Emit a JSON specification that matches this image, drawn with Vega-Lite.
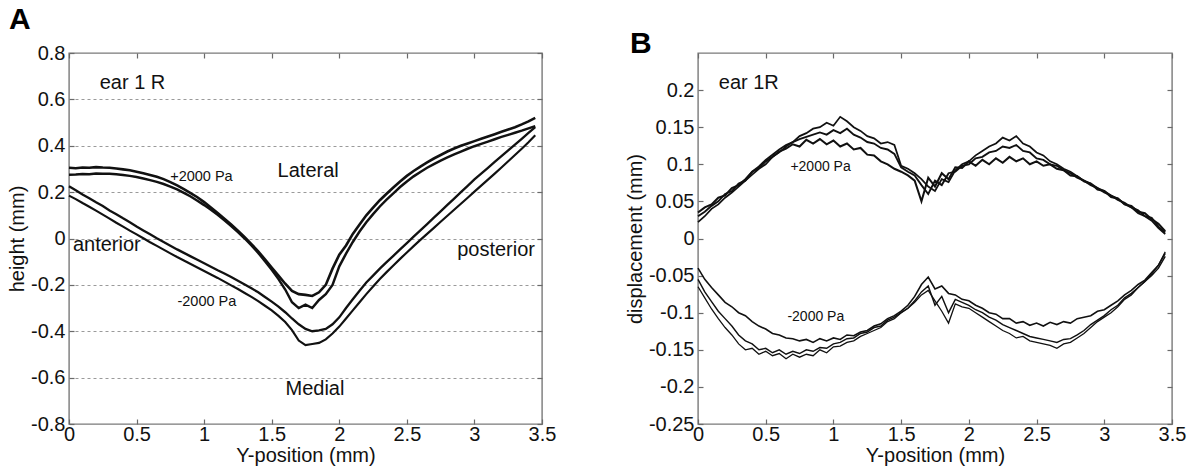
{
  "$schema": "https://vega.github.io/schema/vega-lite/v6.json",
  "padding": {"left": 6, "top": 4, "right": 4, "bottom": 2},
  "background": "white",
  "spacing": 67,
  "config": {
    "font": "Liberation Sans",
    "view": {"stroke": "#7a7a7a", "strokeWidth": 1.4},
    "axis": {
      "labelFont": "Liberation Sans", "titleFont": "Liberation Sans",
      "labelFontSize": 20, "titleFontSize": 20,
      "labelColor": "#111", "titleColor": "#111", "titleFontWeight": "normal",
      "domain": false, "tickColor": "#6a6a6a", "tickSize": -5, "tickWidth": 1.2,
      "labelPadding": 9, "labelFlush": false, "labelOverlap": false, "grid": false
    },
    "title": {"font": "Liberation Sans", "fontSize": 30, "fontWeight": "bold", "color": "#000"}
  },
  "datasets": {
    "A": [
      {"x":0,"u1":0.305,"u2":0.275,"l1":0.225,"l2":0.185},
      {"x":0.05,"u1":0.303,"u2":0.276,"l1":0.208,"l2":0.17},
      {"x":0.1,"u1":0.306,"u2":0.278,"l1":0.19,"l2":0.153},
      {"x":0.15,"u1":0.305,"u2":0.277,"l1":0.174,"l2":0.137},
      {"x":0.2,"u1":0.308,"u2":0.28,"l1":0.156,"l2":0.12},
      {"x":0.25,"u1":0.306,"u2":0.279,"l1":0.14,"l2":0.103},
      {"x":0.3,"u1":0.305,"u2":0.279,"l1":0.121,"l2":0.086},
      {"x":0.35,"u1":0.302,"u2":0.277,"l1":0.105,"l2":0.068},
      {"x":0.4,"u1":0.298,"u2":0.274,"l1":0.087,"l2":0.051},
      {"x":0.45,"u1":0.294,"u2":0.27,"l1":0.07,"l2":0.034},
      {"x":0.5,"u1":0.288,"u2":0.265,"l1":0.052,"l2":0.018},
      {"x":0.55,"u1":0.281,"u2":0.259,"l1":0.035,"l2":0.001},
      {"x":0.6,"u1":0.274,"u2":0.252,"l1":0.018,"l2":-0.016},
      {"x":0.65,"u1":0.266,"u2":0.244,"l1":0.001,"l2":-0.032},
      {"x":0.7,"u1":0.256,"u2":0.235,"l1":-0.015,"l2":-0.048},
      {"x":0.75,"u1":0.243,"u2":0.224,"l1":-0.031,"l2":-0.064},
      {"x":0.8,"u1":0.229,"u2":0.212,"l1":-0.047,"l2":-0.08},
      {"x":0.85,"u1":0.213,"u2":0.197,"l1":-0.062,"l2":-0.095},
      {"x":0.9,"u1":0.196,"u2":0.181,"l1":-0.077,"l2":-0.11},
      {"x":0.95,"u1":0.178,"u2":0.163,"l1":-0.092,"l2":-0.125},
      {"x":1.0,"u1":0.157,"u2":0.144,"l1":-0.107,"l2":-0.14},
      {"x":1.05,"u1":0.134,"u2":0.124,"l1":-0.122,"l2":-0.155},
      {"x":1.1,"u1":0.11,"u2":0.102,"l1":-0.137,"l2":-0.17},
      {"x":1.15,"u1":0.085,"u2":0.078,"l1":-0.151,"l2":-0.186},
      {"x":1.2,"u1":0.06,"u2":0.054,"l1":-0.166,"l2":-0.202},
      {"x":1.25,"u1":0.034,"u2":0.028,"l1":-0.182,"l2":-0.218},
      {"x":1.3,"u1":0.006,"u2":0.0,"l1":-0.198,"l2":-0.235},
      {"x":1.35,"u1":-0.024,"u2":-0.03,"l1":-0.215,"l2":-0.252},
      {"x":1.4,"u1":-0.055,"u2":-0.062,"l1":-0.232,"l2":-0.27},
      {"x":1.45,"u1":-0.09,"u2":-0.098,"l1":-0.252,"l2":-0.29},
      {"x":1.5,"u1":-0.125,"u2":-0.135,"l1":-0.272,"l2":-0.31},
      {"x":1.55,"u1":-0.16,"u2":-0.175,"l1":-0.294,"l2":-0.334},
      {"x":1.6,"u1":-0.195,"u2":-0.22,"l1":-0.318,"l2":-0.36},
      {"x":1.65,"u1":-0.226,"u2":-0.275,"l1":-0.345,"l2":-0.395},
      {"x":1.7,"u1":-0.24,"u2":-0.3,"l1":-0.37,"l2":-0.44},
      {"x":1.75,"u1":-0.243,"u2":-0.285,"l1":-0.39,"l2":-0.46},
      {"x":1.8,"u1":-0.248,"u2":-0.3,"l1":-0.4,"l2":-0.455},
      {"x":1.85,"u1":-0.232,"u2":-0.265,"l1":-0.396,"l2":-0.45},
      {"x":1.9,"u1":-0.2,"u2":-0.24,"l1":-0.39,"l2":-0.435},
      {"x":1.95,"u1":-0.13,"u2":-0.2,"l1":-0.37,"l2":-0.41},
      {"x":2.0,"u1":-0.07,"u2":-0.12,"l1":-0.34,"l2":-0.38},
      {"x":2.05,"u1":-0.03,"u2":-0.065,"l1":-0.3,"l2":-0.345},
      {"x":2.1,"u1":0.02,"u2":-0.015,"l1":-0.262,"l2":-0.31},
      {"x":2.15,"u1":0.06,"u2":0.03,"l1":-0.225,"l2":-0.275},
      {"x":2.2,"u1":0.1,"u2":0.07,"l1":-0.19,"l2":-0.24},
      {"x":2.25,"u1":0.133,"u2":0.105,"l1":-0.16,"l2":-0.207},
      {"x":2.3,"u1":0.165,"u2":0.138,"l1":-0.13,"l2":-0.175},
      {"x":2.35,"u1":0.193,"u2":0.168,"l1":-0.102,"l2":-0.145},
      {"x":2.4,"u1":0.22,"u2":0.195,"l1":-0.075,"l2":-0.116},
      {"x":2.45,"u1":0.246,"u2":0.222,"l1":-0.047,"l2":-0.088},
      {"x":2.5,"u1":0.27,"u2":0.246,"l1":-0.02,"l2":-0.06},
      {"x":2.55,"u1":0.291,"u2":0.268,"l1":0.008,"l2":-0.033},
      {"x":2.6,"u1":0.31,"u2":0.287,"l1":0.035,"l2":-0.006},
      {"x":2.65,"u1":0.328,"u2":0.305,"l1":0.062,"l2":0.02},
      {"x":2.7,"u1":0.345,"u2":0.321,"l1":0.09,"l2":0.046},
      {"x":2.75,"u1":0.36,"u2":0.336,"l1":0.117,"l2":0.072},
      {"x":2.8,"u1":0.375,"u2":0.35,"l1":0.145,"l2":0.098},
      {"x":2.85,"u1":0.388,"u2":0.363,"l1":0.172,"l2":0.124},
      {"x":2.9,"u1":0.4,"u2":0.375,"l1":0.2,"l2":0.15},
      {"x":2.95,"u1":0.41,"u2":0.387,"l1":0.227,"l2":0.176},
      {"x":3.0,"u1":0.42,"u2":0.398,"l1":0.255,"l2":0.202},
      {"x":3.05,"u1":0.43,"u2":0.408,"l1":0.28,"l2":0.228},
      {"x":3.1,"u1":0.44,"u2":0.418,"l1":0.305,"l2":0.254},
      {"x":3.15,"u1":0.45,"u2":0.428,"l1":0.33,"l2":0.28},
      {"x":3.2,"u1":0.46,"u2":0.438,"l1":0.355,"l2":0.306},
      {"x":3.25,"u1":0.47,"u2":0.447,"l1":0.38,"l2":0.333},
      {"x":3.3,"u1":0.48,"u2":0.456,"l1":0.405,"l2":0.36},
      {"x":3.35,"u1":0.492,"u2":0.465,"l1":0.43,"l2":0.387},
      {"x":3.4,"u1":0.505,"u2":0.475,"l1":0.455,"l2":0.415},
      {"x":3.45,"u1":0.52,"u2":0.485,"l1":0.48,"l2":0.445}
    ],
    "B": [
      {"x":0,"p1":0.035,"p2":0.03,"p3":0.022,"n1":-0.04,"n2":-0.055,"n3":-0.065},
      {"x":0.05,"p1":0.042,"p2":0.036,"p3":0.03,"n1":-0.055,"n2":-0.072,"n3":-0.08},
      {"x":0.1,"p1":0.046,"p2":0.044,"p3":0.04,"n1":-0.066,"n2":-0.085,"n3":-0.095},
      {"x":0.15,"p1":0.055,"p2":0.05,"p3":0.046,"n1":-0.076,"n2":-0.098,"n3":-0.108},
      {"x":0.2,"p1":0.058,"p2":0.06,"p3":0.055,"n1":-0.086,"n2":-0.108,"n3":-0.12},
      {"x":0.25,"p1":0.068,"p2":0.064,"p3":0.062,"n1":-0.092,"n2":-0.118,"n3":-0.13},
      {"x":0.3,"p1":0.072,"p2":0.074,"p3":0.07,"n1":-0.1,"n2":-0.13,"n3":-0.142},
      {"x":0.35,"p1":0.08,"p2":0.078,"p3":0.078,"n1":-0.104,"n2":-0.138,"n3":-0.15},
      {"x":0.4,"p1":0.09,"p2":0.09,"p3":0.086,"n1":-0.112,"n2":-0.142,"n3":-0.148},
      {"x":0.45,"p1":0.095,"p2":0.097,"p3":0.094,"n1":-0.118,"n2":-0.15,"n3":-0.156},
      {"x":0.5,"p1":0.104,"p2":0.106,"p3":0.1,"n1":-0.122,"n2":-0.148,"n3":-0.152},
      {"x":0.55,"p1":0.11,"p2":0.113,"p3":0.11,"n1":-0.128,"n2":-0.154,"n3":-0.158},
      {"x":0.6,"p1":0.117,"p2":0.12,"p3":0.116,"n1":-0.13,"n2":-0.15,"n3":-0.155},
      {"x":0.65,"p1":0.121,"p2":0.126,"p3":0.124,"n1":-0.134,"n2":-0.156,"n3":-0.162},
      {"x":0.7,"p1":0.127,"p2":0.13,"p3":0.13,"n1":-0.135,"n2":-0.152,"n3":-0.156},
      {"x":0.75,"p1":0.124,"p2":0.134,"p3":0.138,"n1":-0.138,"n2":-0.155,"n3":-0.16},
      {"x":0.8,"p1":0.133,"p2":0.137,"p3":0.142,"n1":-0.136,"n2":-0.15,"n3":-0.156},
      {"x":0.85,"p1":0.128,"p2":0.14,"p3":0.148,"n1":-0.14,"n2":-0.152,"n3":-0.158},
      {"x":0.9,"p1":0.134,"p2":0.143,"p3":0.15,"n1":-0.135,"n2":-0.147,"n3":-0.15},
      {"x":0.95,"p1":0.127,"p2":0.14,"p3":0.156,"n1":-0.138,"n2":-0.148,"n3":-0.154},
      {"x":1.0,"p1":0.132,"p2":0.146,"p3":0.152,"n1":-0.134,"n2":-0.142,"n3":-0.146},
      {"x":1.05,"p1":0.124,"p2":0.142,"p3":0.164,"n1":-0.136,"n2":-0.14,"n3":-0.145},
      {"x":1.1,"p1":0.128,"p2":0.148,"p3":0.158,"n1":-0.13,"n2":-0.135,"n3":-0.14},
      {"x":1.15,"p1":0.12,"p2":0.14,"p3":0.15,"n1":-0.131,"n2":-0.134,"n3":-0.138},
      {"x":1.2,"p1":0.122,"p2":0.136,"p3":0.145,"n1":-0.126,"n2":-0.128,"n3":-0.132},
      {"x":1.25,"p1":0.113,"p2":0.13,"p3":0.138,"n1":-0.124,"n2":-0.126,"n3":-0.128},
      {"x":1.3,"p1":0.112,"p2":0.128,"p3":0.135,"n1":-0.118,"n2":-0.12,"n3":-0.124},
      {"x":1.35,"p1":0.104,"p2":0.122,"p3":0.128,"n1":-0.115,"n2":-0.118,"n3":-0.12},
      {"x":1.4,"p1":0.1,"p2":0.12,"p3":0.13,"n1":-0.108,"n2":-0.11,"n3":-0.112},
      {"x":1.45,"p1":0.094,"p2":0.114,"p3":0.126,"n1":-0.104,"n2":-0.106,"n3":-0.108},
      {"x":1.5,"p1":0.09,"p2":0.096,"p3":0.098,"n1":-0.098,"n2":-0.1,"n3":-0.1},
      {"x":1.55,"p1":0.085,"p2":0.09,"p3":0.094,"n1":-0.09,"n2":-0.094,"n3":-0.094},
      {"x":1.6,"p1":0.078,"p2":0.085,"p3":0.088,"n1":-0.078,"n2":-0.084,"n3":-0.086},
      {"x":1.65,"p1":0.05,"p2":0.072,"p3":0.08,"n1":-0.062,"n2":-0.072,"n3":-0.076},
      {"x":1.7,"p1":0.082,"p2":0.06,"p3":0.07,"n1":-0.052,"n2":-0.064,"n3":-0.07},
      {"x":1.75,"p1":0.07,"p2":0.078,"p3":0.064,"n1":-0.068,"n2":-0.09,"n3":-0.084},
      {"x":1.8,"p1":0.088,"p2":0.072,"p3":0.08,"n1":-0.064,"n2":-0.078,"n3":-0.098},
      {"x":1.85,"p1":0.08,"p2":0.088,"p3":0.076,"n1":-0.074,"n2":-0.1,"n3":-0.114},
      {"x":1.9,"p1":0.096,"p2":0.09,"p3":0.092,"n1":-0.076,"n2":-0.082,"n3":-0.088},
      {"x":1.95,"p1":0.095,"p2":0.098,"p3":0.1,"n1":-0.082,"n2":-0.086,"n3":-0.092},
      {"x":2.0,"p1":0.104,"p2":0.1,"p3":0.104,"n1":-0.084,"n2":-0.09,"n3":-0.094},
      {"x":2.05,"p1":0.098,"p2":0.108,"p3":0.112,"n1":-0.09,"n2":-0.096,"n3":-0.1},
      {"x":2.1,"p1":0.106,"p2":0.11,"p3":0.118,"n1":-0.094,"n2":-0.1,"n3":-0.106},
      {"x":2.15,"p1":0.1,"p2":0.116,"p3":0.124,"n1":-0.1,"n2":-0.106,"n3":-0.112},
      {"x":2.2,"p1":0.108,"p2":0.118,"p3":0.128,"n1":-0.102,"n2":-0.11,"n3":-0.118},
      {"x":2.25,"p1":0.102,"p2":0.124,"p3":0.136,"n1":-0.108,"n2":-0.116,"n3":-0.124},
      {"x":2.3,"p1":0.11,"p2":0.122,"p3":0.132,"n1":-0.108,"n2":-0.12,"n3":-0.128},
      {"x":2.35,"p1":0.104,"p2":0.126,"p3":0.138,"n1":-0.114,"n2":-0.124,"n3":-0.134},
      {"x":2.4,"p1":0.108,"p2":0.118,"p3":0.128,"n1":-0.112,"n2":-0.128,"n3":-0.132},
      {"x":2.45,"p1":0.1,"p2":0.116,"p3":0.124,"n1":-0.117,"n2":-0.132,"n3":-0.138},
      {"x":2.5,"p1":0.104,"p2":0.108,"p3":0.116,"n1":-0.114,"n2":-0.134,"n3":-0.14},
      {"x":2.55,"p1":0.098,"p2":0.106,"p3":0.112,"n1":-0.118,"n2":-0.136,"n3":-0.142},
      {"x":2.6,"p1":0.1,"p2":0.1,"p3":0.104,"n1":-0.113,"n2":-0.138,"n3":-0.144},
      {"x":2.65,"p1":0.094,"p2":0.098,"p3":0.1,"n1":-0.116,"n2":-0.14,"n3":-0.148},
      {"x":2.7,"p1":0.092,"p2":0.092,"p3":0.094,"n1":-0.112,"n2":-0.136,"n3":-0.142},
      {"x":2.75,"p1":0.085,"p2":0.088,"p3":0.09,"n1":-0.114,"n2":-0.135,"n3":-0.14},
      {"x":2.8,"p1":0.084,"p2":0.082,"p3":0.084,"n1":-0.108,"n2":-0.13,"n3":-0.134},
      {"x":2.85,"p1":0.077,"p2":0.078,"p3":0.078,"n1":-0.106,"n2":-0.124,"n3":-0.128},
      {"x":2.9,"p1":0.074,"p2":0.072,"p3":0.074,"n1":-0.104,"n2":-0.116,"n3":-0.12},
      {"x":2.95,"p1":0.066,"p2":0.068,"p3":0.068,"n1":-0.098,"n2":-0.11,"n3":-0.112},
      {"x":3.0,"p1":0.064,"p2":0.062,"p3":0.064,"n1":-0.096,"n2":-0.104,"n3":-0.106},
      {"x":3.05,"p1":0.056,"p2":0.058,"p3":0.058,"n1":-0.09,"n2":-0.096,"n3":-0.1},
      {"x":3.1,"p1":0.054,"p2":0.052,"p3":0.054,"n1":-0.084,"n2":-0.09,"n3":-0.092},
      {"x":3.15,"p1":0.046,"p2":0.048,"p3":0.046,"n1":-0.076,"n2":-0.08,"n3":-0.082},
      {"x":3.2,"p1":0.044,"p2":0.042,"p3":0.042,"n1":-0.07,"n2":-0.074,"n3":-0.076},
      {"x":3.25,"p1":0.036,"p2":0.038,"p3":0.034,"n1":-0.062,"n2":-0.066,"n3":-0.066},
      {"x":3.3,"p1":0.034,"p2":0.03,"p3":0.03,"n1":-0.056,"n2":-0.058,"n3":-0.058},
      {"x":3.35,"p1":0.026,"p2":0.028,"p3":0.024,"n1":-0.046,"n2":-0.05,"n3":-0.048},
      {"x":3.4,"p1":0.02,"p2":0.016,"p3":0.014,"n1":-0.036,"n2":-0.04,"n3":-0.036},
      {"x":3.45,"p1":0.01,"p2":0.008,"p3":0.006,"n1":-0.02,"n2":-0.024,"n3":-0.018}
    ]
  },
  "hconcat": [
    {
      "width": 473,
      "height": 371,
      "title": {"text": "A", "anchor": "start", "frame": "group", "dx": -60, "offset": 8},
      "layer": [
        {
          "data": {"name": "A"},
          "transform": [{"fold": ["u1", "u2", "l1", "l2"], "as": ["series", "y"]}],
          "mark": {"type": "line", "color": "#111", "interpolate": "linear"},
          "encoding": {
            "x": {"field": "x", "type": "quantitative", "scale": {"domain": [0, 3.5], "nice": false},
              "axis": {"values": [0, 0.5, 1, 1.5, 2, 2.5, 3, 3.5], "title": "Y-position (mm)", "labelExpr": "toString(datum.value)", "labelPadding": 5, "titlePadding": 1}},
            "y": {"field": "y", "type": "quantitative", "scale": {"domain": [-0.8, 0.8], "nice": false},
              "axis": {"values": [-0.8, -0.6, -0.4, -0.2, 0, 0.2, 0.4, 0.6, 0.8], "title": "height (mm)", "labelExpr": "toString(datum.value)", "grid": true, "gridDash": [3, 3], "gridColor": "#9a9a9a", "gridWidth": 1, "titlePadding": 3}},
            "strokeWidth": {"field": "series", "type": "nominal", "scale": {"domain": ["u1", "u2", "l1", "l2"], "range": [2.6, 1.3, 2.6, 1.3]}, "legend": null}
          }
        },
        {
          "data": {"values": [
            {"x": 0.47, "y": 0.67, "label": "ear 1 R"},
            {"x": 1.77, "y": 0.29, "label": "Lateral"},
            {"x": 0.28, "y": -0.03, "label": "anterior"},
            {"x": 3.16, "y": -0.05, "label": "posterior"},
            {"x": 1.82, "y": -0.65, "label": "Medial"}
          ]},
          "mark": {"type": "text", "fontSize": 20, "font": "Liberation Sans", "color": "#111", "align": "center", "baseline": "middle"},
          "encoding": {
            "x": {"field": "x", "type": "quantitative", "scale": {"domain": [0, 3.5], "nice": false}, "axis": null},
            "y": {"field": "y", "type": "quantitative", "scale": {"domain": [-0.8, 0.8], "nice": false}, "axis": null},
            "text": {"field": "label"}
          }
        },
        {
          "data": {"values": [
            {"x": 0.98, "y": 0.264, "label": "+2000 Pa"},
            {"x": 1.02, "y": -0.274, "label": "-2000 Pa"}
          ]},
          "mark": {"type": "text", "fontSize": 14.5, "font": "Liberation Sans", "color": "#111", "align": "center", "baseline": "middle"},
          "encoding": {
            "x": {"field": "x", "type": "quantitative", "scale": {"domain": [0, 3.5], "nice": false}, "axis": null},
            "y": {"field": "y", "type": "quantitative", "scale": {"domain": [-0.8, 0.8], "nice": false}, "axis": null},
            "text": {"field": "label"}
          }
        },
        {
          "data": {"name": "A"},
          "mark": {"type": "line", "opacity": 0},
          "encoding": {
            "x": {"field": "x", "type": "quantitative", "scale": {"domain": [0, 3.5], "nice": false},
              "axis": {"orient": "top", "values": [0, 0.5, 1, 1.5, 2, 2.5, 3, 3.5], "labels": false, "title": null}},
            "y": {"field": "u1", "type": "quantitative", "scale": {"domain": [-0.8, 0.8], "nice": false},
              "axis": {"orient": "right", "values": [-0.8, -0.6, -0.4, -0.2, 0, 0.2, 0.4, 0.6, 0.8], "labels": false, "title": null}}
          }
        }
      ],
      "resolve": {"scale": {"x": "independent", "y": "independent"}}
    },
    {
      "width": 474,
      "height": 371,
      "title": {"text": "B", "anchor": "start", "frame": "group", "dx": -68, "offset": -7},
      "layer": [
        {
          "data": {"name": "B"},
          "transform": [{"fold": ["p1", "p2", "p3", "n1", "n2", "n3"], "as": ["series", "y"]}],
          "mark": {"type": "line", "color": "#111", "interpolate": "linear"},
          "encoding": {
            "x": {"field": "x", "type": "quantitative", "scale": {"domain": [0, 3.5], "nice": false},
              "axis": {"values": [0, 0.5, 1, 1.5, 2, 2.5, 3, 3.5], "title": "Y-position (mm)", "labelExpr": "toString(datum.value)", "labelPadding": 5, "titlePadding": 1}},
            "y": {"field": "y", "type": "quantitative", "scale": {"domain": [-0.25, 0.25], "nice": false},
              "axis": {"values": [-0.25, -0.2, -0.15, -0.1, -0.05, 0, 0.05, 0.1, 0.15, 0.2], "title": "displacement (mm)", "labelExpr": "toString(datum.value)", "titlePadding": 3}},
            "strokeWidth": {"field": "series", "type": "nominal", "scale": {"domain": ["p1", "p2", "p3", "n1", "n2", "n3"], "range": [2.4, 1.3, 1.3, 2.4, 1.3, 1.3]}, "legend": null}
          }
        },
        {
          "data": {"values": [
            {"x": 0.375, "y": 0.209, "label": "ear 1R"}
          ]},
          "mark": {"type": "text", "fontSize": 20, "font": "Liberation Sans", "color": "#111", "align": "center", "baseline": "middle"},
          "encoding": {
            "x": {"field": "x", "type": "quantitative", "scale": {"domain": [0, 3.5], "nice": false}, "axis": null},
            "y": {"field": "y", "type": "quantitative", "scale": {"domain": [-0.25, 0.25], "nice": false}, "axis": null},
            "text": {"field": "label"}
          }
        },
        {
          "data": {"values": [
            {"x": 0.905, "y": 0.0965, "label": "+2000 Pa"},
            {"x": 0.87, "y": -0.106, "label": "-2000 Pa"}
          ]},
          "mark": {"type": "text", "fontSize": 14, "font": "Liberation Sans", "color": "#111", "align": "center", "baseline": "middle"},
          "encoding": {
            "x": {"field": "x", "type": "quantitative", "scale": {"domain": [0, 3.5], "nice": false}, "axis": null},
            "y": {"field": "y", "type": "quantitative", "scale": {"domain": [-0.25, 0.25], "nice": false}, "axis": null},
            "text": {"field": "label"}
          }
        },
        {
          "data": {"name": "B"},
          "mark": {"type": "line", "opacity": 0},
          "encoding": {
            "x": {"field": "x", "type": "quantitative", "scale": {"domain": [0, 3.5], "nice": false},
              "axis": {"orient": "top", "values": [0, 0.5, 1, 1.5, 2, 2.5, 3, 3.5], "labels": false, "title": null}},
            "y": {"field": "p1", "type": "quantitative", "scale": {"domain": [-0.25, 0.25], "nice": false},
              "axis": {"orient": "right", "values": [-0.25, -0.2, -0.15, -0.1, -0.05, 0, 0.05, 0.1, 0.15, 0.2], "labels": false, "title": null}}
          }
        }
      ],
      "resolve": {"scale": {"x": "independent", "y": "independent"}}
    }
  ]
}
